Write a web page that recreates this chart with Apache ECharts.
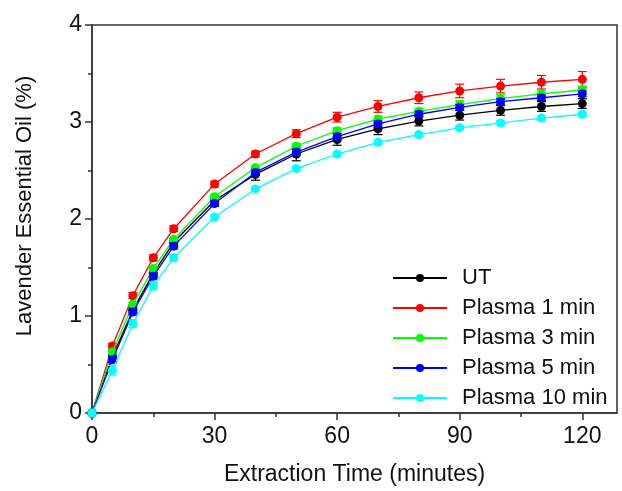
<!DOCTYPE html>
<html><head><meta charset="utf-8">
<script src="https://cdn.jsdelivr.net/npm/echarts@6/dist/echarts.min.js"></script>
<style>html,body{margin:0;padding:0;background:#fff}#c{width:622px;height:491px}</style>
</head><body><div id="c"></div>
<script>
// ---- data ----
const times = [0, 5, 10, 15, 20, 30, 40, 50, 60, 70, 80, 90, 100, 110, 120];
const seriesNames = ['UT', 'Plasma 1 min', 'Plasma 3 min', 'Plasma 5 min', 'Plasma 10 min'];
const utVals      = [0, 0.58, 1.06, 1.44, 1.76, 2.19, 2.46, 2.67, 2.82, 2.93, 3.01, 3.07, 3.12, 3.16, 3.19];
const plasma1     = [0, 0.69, 1.21, 1.60, 1.90, 2.36, 2.67, 2.88, 3.05, 3.16, 3.25, 3.32, 3.37, 3.41, 3.44];
const plasma3     = [0, 0.63, 1.12, 1.49, 1.79, 2.23, 2.53, 2.75, 2.91, 3.03, 3.11, 3.18, 3.24, 3.29, 3.33];
const plasma5     = [0, 0.55, 1.04, 1.41, 1.72, 2.16, 2.48, 2.69, 2.85, 2.98, 3.08, 3.15, 3.21, 3.25, 3.29];
const plasma10    = [0, 0.44, 0.92, 1.31, 1.60, 2.02, 2.31, 2.52, 2.67, 2.79, 2.87, 2.94, 2.99, 3.04, 3.08];
const utErr       = [0, 0.03, 0.03, 0.04, 0.04, 0.05, 0.06, 0.07, 0.06, 0.06, 0.05, 0.05, 0.05, 0.05, 0.05];
const plasma1Err  = [0, 0.03, 0.03, 0.03, 0.03, 0.03, 0.03, 0.04, 0.05, 0.06, 0.06, 0.07, 0.07, 0.07, 0.08];
const plasma3Err  = [0, 0.02, 0.02, 0.02, 0.02, 0.02, 0.02, 0.03, 0.03, 0.03, 0.03, 0.04, 0.04, 0.04, 0.04];
const plasma5Err  = [0, 0.03, 0.03, 0.03, 0.03, 0.03, 0.03, 0.03, 0.03, 0.03, 0.03, 0.03, 0.03, 0.03, 0.03];
const plasma10Err = [0, 0.05, 0.04, 0.04, 0.03, 0.02, 0.02, 0.02, 0.02, 0.02, 0.02, 0.02, 0.02, 0.02, 0.02];
const xTicks = [0, 30, 60, 90, 120];
const xMinorTicks = [15, 45, 75, 105];
const xTitle = 'Extraction Time (minutes)';
const yTitle = 'Lavender Essential Oil (%)';

const colors = ['#000000', '#ff0000', '#00ff00', '#0000ff', '#00ffff'];
const allVals = [utVals, plasma1, plasma3, plasma5, plasma10];
const allErrs = [utErr, plasma1Err, plasma3Err, plasma5Err, plasma10Err];

const FONT = '"Liberation Sans", Arial, sans-serif';
const AX = '#333';

function errSeries(i) {
  const color = colors[i];
  return {
    type: 'custom', name: seriesNames[i] + ' err', xAxisIndex: 0, yAxisIndex: 0,
    data: times.map((t, k) => [t, allVals[i][k], allErrs[i][k]]),
    silent: true, animation: false, z: 2 + i * 2,
    renderItem: (params, api) => {
      const x = api.value(0), y = api.value(1), e = api.value(2);
      if (!e) return null;
      const top = api.coord([x, y + e]), bot = api.coord([x, y - e]);
      const hw = 4.5;
      const st = { stroke: color, lineWidth: 1.2 };
      return { type: 'group', children: [
        { type: 'line', shape: { x1: top[0], y1: top[1], x2: bot[0], y2: bot[1] }, style: st },
        { type: 'line', shape: { x1: top[0] - hw, y1: top[1], x2: top[0] + hw, y2: top[1] }, style: st },
        { type: 'line', shape: { x1: bot[0] - hw, y1: bot[1], x2: bot[0] + hw, y2: bot[1] }, style: st }
      ]};
    }
  };
}

const series = [];
seriesNames.forEach((n, i) => {
  series.push(errSeries(i));
  series.push({
    type: 'line', name: n, xAxisIndex: 0, yAxisIndex: 0,
    data: times.map((t, k) => [t, allVals[i][k]]),
    symbol: 'circle', symbolSize: 9, showSymbol: true,
    itemStyle: { color: colors[i] },
    lineStyle: { color: colors[i], width: 1.3 },
    z: 3 + i * 2, animation: false
  });
});

const chart = echarts.init(document.getElementById('c'), null, { renderer: 'canvas' });
chart.setOption({
  animation: false,
  backgroundColor: '#fff',
  grid: { left: 92, right: 5, top: 25, bottom: 76, show: true, borderColor: AX, borderWidth: 1.5, backgroundColor: 'transparent' },
  legend: {
    data: seriesNames, orient: 'vertical', left: 392, top: 267, padding: 0,
    itemWidth: 54, itemHeight: 10, itemGap: 8,
    textStyle: { fontFamily: FONT, fontSize: 22, lineHeight: 22, color: '#111', padding: [0, 0, 0, 10] }
  },
  xAxis: [{
    type: 'value', min: 0, max: 128.5, interval: 30,
    name: xTitle, nameLocation: 'middle', nameGap: 50,
    nameTextStyle: { fontFamily: FONT, fontSize: 23, color: '#111' },
    axisLine: { show: true, onZero: false, lineStyle: { color: AX, width: 1.5 } },
    axisTick: { show: true, inside: false, length: 7, customValues: xTicks, lineStyle: { color: AX, width: 1.5 } },
    axisLabel: { customValues: xTicks, fontFamily: FONT, fontSize: 23, color: '#111', margin: 12 },
    splitLine: { show: false }
  }, {
    type: 'value', min: 0, max: 128.5, position: 'bottom', gridIndex: 0,
    axisLine: { show: false, onZero: false },
    axisTick: { show: true, inside: false, length: 4, customValues: xMinorTicks, lineStyle: { color: AX, width: 1.5 } },
    axisLabel: { show: false },
    splitLine: { show: false }
  }],
  yAxis: [{
    type: 'value', min: 0, max: 4, interval: 1,
    name: yTitle, nameLocation: 'middle', nameGap: 56, nameRotate: 90,
    nameTextStyle: { fontFamily: FONT, fontSize: 22, color: '#111', padding: [0, 0, 0, 26] },
    axisLine: { show: true, onZero: false, lineStyle: { color: AX, width: 1.5 } },
    axisTick: { show: true, inside: false, length: 7, lineStyle: { color: AX, width: 1.5 } },
    minorTick: { show: true, splitNumber: 2, length: 4, lineStyle: { color: AX, width: 1.5 } },
    axisLabel: { fontFamily: FONT, fontSize: 23, color: '#111', margin: 10 },
    splitLine: { show: false }, minorSplitLine: { show: false }
  }],
  series: series
});
</script>
</body></html>
